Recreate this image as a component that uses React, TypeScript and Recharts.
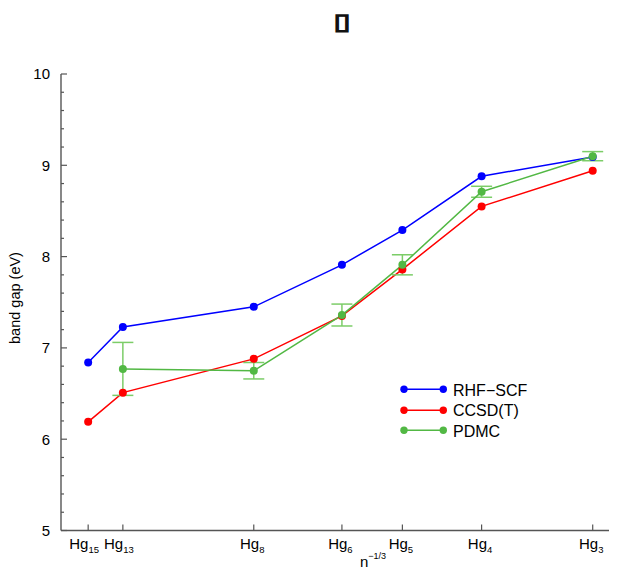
import React from 'react';
import { LineChart, Line, XAxis, YAxis, ErrorBar } from 'recharts';

// n^-1/3 for Hg15 .. Hg3
const nInvCubeRoot = [0.4055, 0.4253, 0.5, 0.5503, 0.5848, 0.63, 0.6934];
const clusterSizes = ['15', '13', '8', '6', '5', '4', '3'];

const rhfScf = [6.84, 7.23, 7.45, 7.91, 8.29, 8.88, 9.09];
const ccsdT = [6.19, 6.51, 6.88, 7.35, 7.86, 8.55, 8.94];
const pdmc = [null, 6.77, 6.75, 7.36, 7.91, 8.71, 9.1];
const pdmcErr = [null, 0.29, 0.09, 0.12, 0.11, 0.06, 0.05];

const yTicks = [
  5, 5.2, 5.4, 5.6, 5.8, 6, 6.2, 6.4, 6.6, 6.8, 7, 7.2, 7.4, 7.6, 7.8, 8, 8.2, 8.4, 8.6, 8.8, 9, 9.2,
  9.4, 9.6, 9.8, 10,
];

const data = nInvCubeRoot.map((x, i) => ({
  x,
  rhf: rhfScf[i],
  ccsd: ccsdT[i],
  pdmc: pdmc[i],
  err: pdmcErr[i],
}));

const FONT = '"Liberation Sans", Arial, Helvetica, sans-serif';
const AXIS = '#555';
const BLUE = '#0000ff';
const RED = '#ff0000';
const GREEN = '#52b844';
const GREEN_ERR = '#7ccd68';

if (typeof document !== 'undefined') {
  document.documentElement.style.overflow = 'hidden';
}

const isMajor = (v: number) => Math.abs(v - Math.round(v)) < 1e-6;

function LeftTick({ x, y, payload }: any) {
  const v = payload.value;
  const major = isMajor(v);
  return (
    <g>
      <line x1={x} x2={x + (major ? 6 : 3)} y1={y} y2={y} stroke={AXIS} strokeWidth={1.2} />
      {major && (
        <text x={x - 11} y={y} dy="0.36em" textAnchor="end" fontSize={15} fontFamily={FONT} fill="#000">
          {v}
        </text>
      )}
    </g>
  );
}

function RightTick({ x, y, payload }: any) {
  const major = isMajor(payload.value);
  return <line x1={x} x2={x - (major ? 8 : 4)} y1={y} y2={y} stroke={AXIS} strokeWidth={1.2} />;
}

function TopTick({ x, y }: any) {
  return <line x1={x} x2={x} y1={y} y2={y + 6} stroke={AXIS} strokeWidth={1.2} />;
}

function BottomTick({ x, y, payload }: any) {
  const i = nInvCubeRoot.indexOf(payload.value);
  const sub = clusterSizes[i] ?? '';
  return (
    <g>
      <line x1={x} x2={x} y1={y} y2={y - 6} stroke={AXIS} strokeWidth={1.2} />
      <text
        x={x}
        dx={sub.length > 1 ? -4 : -1.5}
        y={y + 18}
        textAnchor="middle"
        fontSize={15}
        fontFamily={FONT}
        fill="#000"
      >
        Hg
        <tspan fontSize={9.5} dy={4.5}>
          {sub}
        </tspan>
      </text>
    </g>
  );
}

const legendItems = [
  { name: 'RHF\u2212SCF', color: BLUE },
  { name: 'CCSD(T)', color: RED },
  { name: 'PDMC', color: GREEN },
];

export default function App() {
  return (
    <div style={{ position: 'relative', width: 609, height: 561, overflow: 'hidden' }}>
      <LineChart width={640} height={561} data={data} margin={{ top: 66, right: 26.2, left: 0, bottom: 0 }}>
        <XAxis
          dataKey="x"
          type="number"
          domain={[0.39, 0.71]}
          ticks={nInvCubeRoot}
          interval={0}
          allowDataOverflow
          height={38.5}
          tickSize={0}
          tickMargin={0}
          tickLine={false}
          tick={<BottomTick />}
          axisLine={{ stroke: AXIS, strokeWidth: 1.4 }}
          label={{
            content: () => (
              <g>
                <text x={352} y={559} fontSize={15} fontFamily={FONT} fill="#000">
                  n
                  <tspan fontSize={9} dy={-8}>
                    {'\u22121/3'}
                  </tspan>
                </text>
                <text
                  transform="translate(334, 20.5) scale(1.55, 1.1)"
                  x={0}
                  y={0}
                  textAnchor="middle"
                  fontSize={20}
                  fontFamily="DejaVu Sans"
                  fill="#111"
                  stroke="#111"
                  strokeWidth={1.2}
                >
                  {'\u25AF'}
                </text>
              </g>
            ),
          }}
        />
        <XAxis
          xAxisId="top"
          dataKey="x"
          orientation="top"
          type="number"
          domain={[0.39, 0.71]}
          ticks={nInvCubeRoot}
          interval={0}
          allowDataOverflow
          height={0}
          tickSize={0}
          tickMargin={0}
          tickLine={false}
          tick={<TopTick />}
          axisLine={{ stroke: AXIS, strokeWidth: 1.4 }}
        />
        <YAxis
          yAxisId="left"
          domain={[5, 10]}
          ticks={yTicks}
          width={53}
          interval={0}
          tickSize={0}
          tickMargin={0}
          tickLine={false}
          tick={<LeftTick />}
          axisLine={{ stroke: AXIS, strokeWidth: 1.4 }}
          label={{
            content: () => (
              <text
                x={12}
                y={290}
                transform="rotate(-90, 12, 290)"
                textAnchor="middle"
                fontSize={14.5}
                fontFamily={FONT}
                fill="#000"
              >
                band gap (eV)
              </text>
            ),
          }}
        />
        <YAxis
          yAxisId="right"
          orientation="right"
          domain={[5, 10]}
          ticks={yTicks}
          width={0}
          interval={0}
          tickSize={0}
          tickMargin={0}
          tickLine={false}
          tick={<RightTick />}
          axisLine={{ stroke: AXIS, strokeWidth: 1.4 }}
        />
        <Line
          yAxisId="left"
          dataKey="rhf"
          stroke={BLUE}
          strokeWidth={1.5}
          dot={{ r: 4, fill: BLUE, stroke: 'none' }}
          isAnimationActive={false}
        />
        <Line
          yAxisId="left"
          dataKey="ccsd"
          stroke={RED}
          strokeWidth={1.5}
          dot={{ r: 4, fill: RED, stroke: 'none' }}
          isAnimationActive={false}
        />
        <Line
          yAxisId="left"
          dataKey="pdmc"
          stroke={GREEN}
          strokeWidth={1.5}
          dot={{ r: 4, fill: GREEN, stroke: 'none' }}
          isAnimationActive={false}
        >
          <ErrorBar dataKey="err" direction="y" width={10.5} stroke={GREEN_ERR} strokeWidth={1.5} isAnimationActive={false} />
        </Line>
      </LineChart>
      <div style={{ position: 'absolute', left: 392, top: 371, fontFamily: FONT, fontSize: 16 }}>
        {legendItems.map((it) => (
          <div key={it.name} style={{ display: 'flex', alignItems: 'center', height: 20.5 }}>
            <svg width={53} height={20.5}>
              <line x1={4} x2={43.3} y1={10.25} y2={10.25} stroke={it.color} strokeWidth={1.5} />
              <circle cx={4} cy={10.25} r={3.7} fill={it.color} />
              <circle cx={43.3} cy={10.25} r={3.7} fill={it.color} />
            </svg>
            <span style={{ lineHeight: '20.5px', position: 'relative', top: 1.5 }}>{it.name}</span>
          </div>
        ))}
      </div>
    </div>
  );
}
